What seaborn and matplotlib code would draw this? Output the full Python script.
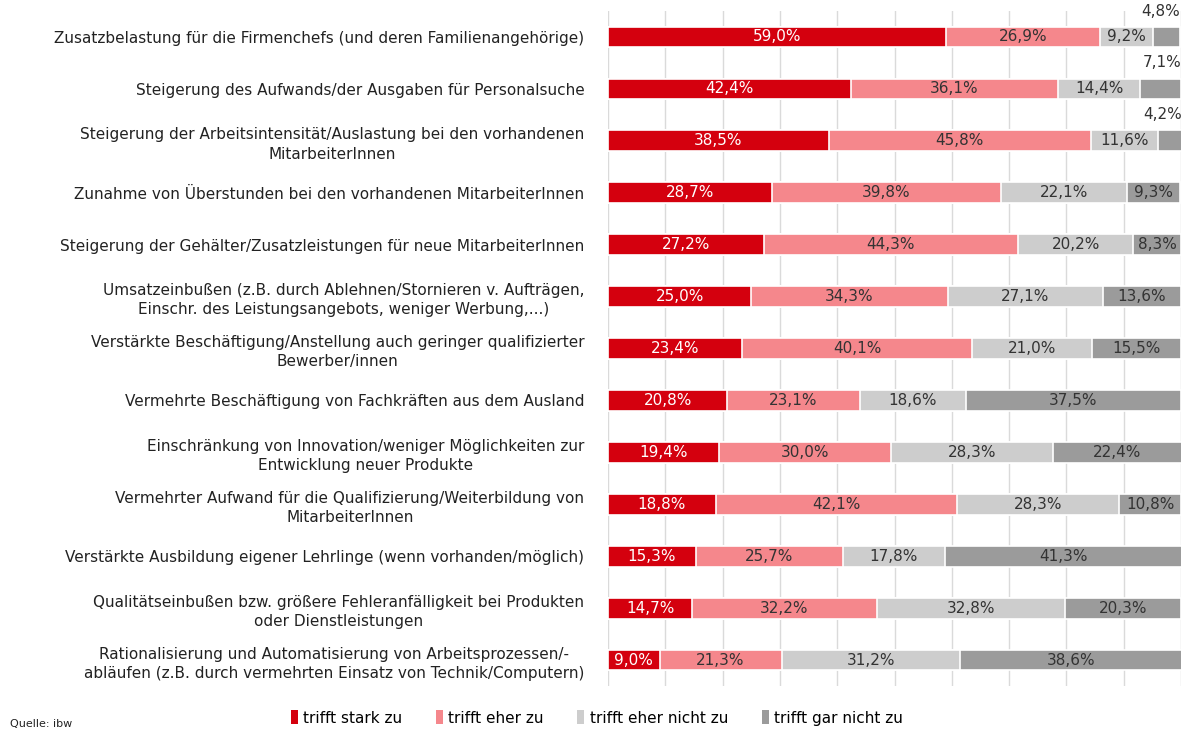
import numpy as np
import pandas as pd
import matplotlib
matplotlib.use("Agg")
import matplotlib.pyplot as plt
from matplotlib.patches import Patch
import seaborn as sns

categories = [
    "Zusatzbelastung für die Firmenchefs (und deren Familienangehörige)",
    "Steigerung des Aufwands/der Ausgaben für Personalsuche",
    "Steigerung der Arbeitsintensität/Auslastung bei den vorhandenen\nMitarbeiterInnen",
    "Zunahme von Überstunden bei den vorhandenen MitarbeiterInnen",
    "Steigerung der Gehälter/Zusatzleistungen für neue MitarbeiterInnen",
    "Umsatzeinbußen (z.B. durch Ablehnen/Stornieren v. Aufträgen,\nEinschr. des Leistungsangebots, weniger Werbung,...)",
    "Verstärkte Beschäftigung/Anstellung auch geringer qualifizierter\nBewerber/innen",
    "Vermehrte Beschäftigung von Fachkräften aus dem Ausland",
    "Einschränkung von Innovation/weniger Möglichkeiten zur\nEntwicklung neuer Produkte",
    "Vermehrter Aufwand für die Qualifizierung/Weiterbildung von\nMitarbeiterInnen",
    "Verstärkte Ausbildung eigener Lehrlinge (wenn vorhanden/möglich)",
    "Qualitätseinbußen bzw. größere Fehleranfälligkeit bei Produkten\noder Dienstleistungen",
    "Rationalisierung und Automatisierung von Arbeitsprozessen/-\nabläufen (z.B. durch vermehrten Einsatz von Technik/Computern)",
]

stark = [59.0, 42.4, 38.5, 28.7, 27.2, 25.0, 23.4, 20.8, 19.4, 18.8, 15.3, 14.7, 9.0]
eher = [26.9, 36.1, 45.8, 39.8, 44.3, 34.3, 40.1, 23.1, 30.0, 42.1, 25.7, 32.2, 21.3]
eher_nicht = [9.2, 14.4, 11.6, 22.1, 20.2, 27.1, 21.0, 18.6, 28.3, 28.3, 17.8, 32.8, 31.2]
gar_nicht = [4.8, 7.1, 4.2, 9.3, 8.3, 13.6, 15.5, 37.5, 22.4, 10.8, 41.3, 20.3, 38.6]

series_names = ["trifft stark zu", "trifft eher zu", "trifft eher nicht zu", "trifft gar nicht zu"]
colors = ["#d4000e", "#f5878c", "#cdcdcd", "#9b9b9b"]
text_colors = ["white", "#333333", "#333333", "#333333"]

df = pd.DataFrame({"Kategorie": categories, series_names[0]: stark, series_names[1]: eher,
                   series_names[2]: eher_nicht, series_names[3]: gar_nicht})
vals = df[series_names].to_numpy()
cum = vals.cumsum(axis=1)

plt.rcParams["font.family"] = ["DejaVu Sans"]
fig = plt.figure(figsize=(11.94, 7.31), dpi=100)
ax = fig.add_axes([608 / 1194, 1 - 686 / 731, 573 / 1194, 675 / 731])

# stacked bars: draw cumulative totals back to front
for i in range(3, -1, -1):
    plot_df = pd.DataFrame({"Kategorie": categories, "wert": cum[:, i]})
    sns.barplot(data=plot_df, x="wert", y="Kategorie", orient="h", color=colors[i],
                width=0.4, edgecolor="white", linewidth=1.2, saturation=1, ax=ax, zorder=3)

# value labels
for r in range(len(categories)):
    for i in range(4):
        v = vals[r, i]
        label = f"{v:.1f}%".replace(".", ",")
        if v < 8:
            ax.text(cum[r, i], r - 0.5, label, ha="right", va="center",
                    fontsize=11, color="#333333", zorder=4)
        else:
            ax.text(cum[r, i] - v / 2, r, label, ha="center", va="center",
                    fontsize=11, color=text_colors[i], zorder=4)

ax.set_xlim(0, 100)
ax.set_ylim(len(categories) - 0.5, -0.5)
ax.set_xticks(np.arange(0, 101, 10))
ax.set_xticklabels([])
ax.grid(axis="x", color="#dadada", linewidth=1, zorder=0)
ax.grid(axis="y", visible=False)
ax.tick_params(axis="both", length=0)
ax.tick_params(axis="y", pad=17, labelsize=11, labelcolor="#222222")
for t in ax.get_yticklabels():
    t.set_multialignment("center")
    t.set_linespacing(1.35)
ax.set_xlabel("")
ax.set_ylabel("")
for s in ax.spines.values():
    s.set_visible(False)

handles = [Patch(facecolor=c, edgecolor="none") for c in colors]
fig.legend(handles, series_names, loc="center", bbox_to_anchor=(0.5, 1 - 718 / 731),
           ncol=4, frameon=False, fontsize=11, handlelength=0.45, handleheight=1.0,
           handletextpad=0.35, columnspacing=2.2)

fig.text(10 / 1194, 2 / 731, "Quelle: ibw", fontsize=8, va="bottom", ha="left", color="#222222")

fig.savefig("out.png", dpi=100)
